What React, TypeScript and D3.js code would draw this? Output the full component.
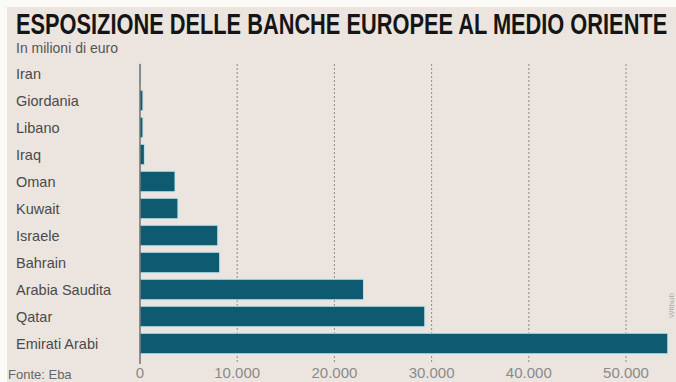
import React, { useEffect, useRef } from "react";
import * as d3 from "d3";

const categories = ["Iran", "Giordania", "Libano", "Iraq", "Oman", "Kuwait", "Israele", "Bahrain", "Arabia Saudita", "Qatar", "Emirati Arabi"];
const values = [80, 300, 300, 450, 3600, 3900, 8000, 8200, 23000, 29300, 54300];
const tickValues = [0, 10000, 20000, 30000, 40000, 50000];
const tickLabels = ["0", "10.000", "20.000", "30.000", "40.000", "50.000"];
const title = "ESPOSIZIONE DELLE BANCHE EUROPEE AL MEDIO ORIENTE";

const W = 676, H = 382;

export default function App() {
  const titleRef = useRef<SVGTextElement>(null);
  useEffect(() => {
    const el = titleRef.current;
    if (!el) return;
    const w = el.getComputedTextLength();
    const s = 651 / w;
    d3.select(el).attr("transform", `translate(16,34) scale(${s},1)`);
  }, []);
  const x = d3.scaleLinear().domain([0, 50000]).range([140, 626]);
  const y = d3.scaleBand().domain(categories).range([60, 357]).paddingInner(0.24).paddingOuter(0.12);
  const font = "'Liberation Sans', Arial, sans-serif";
  return (
    <svg width={W} height={H} style={{ position: "absolute", left: 0, top: 0 }}>
      <rect x={0} y={0} width={W} height={H} fill="#fbfaf7" />
      <rect x={7} y={7} width={W - 7} height={H - 7} fill="#ece5df" />
      <text ref={titleRef} transform="translate(16,34) scale(0.72,1)" fontFamily="'Liberation Sans', Arial, sans-serif" fontWeight="bold" fontSize={29} fill="#151515">{title}</text>
      <text x={16} y={53} fontFamily={font} fontSize={14} fill="#555">In milioni di euro</text>
      {tickValues.slice(1).map((t) => (
        <line key={t} x1={x(t)} x2={x(t)} y1={64} y2={364} stroke="#8a8a8a" strokeWidth={1} strokeDasharray="2,2" />
      ))}
      {categories.map((c, i) => (
        <g key={c}>
          <rect x={x(0)} y={y(c)!} width={Math.max(0.5, x(values[i]) - x(0))} height={y.bandwidth()} fill="#0e5a70" stroke="#bfe4ea" strokeWidth={1} />
          <text x={16} y={y(c)! + y.bandwidth() / 2 + 5} fontFamily={font} fontSize={14.5} fill="#4a4a4a">{c}</text>
        </g>
      ))}
      <line x1={x(0)} x2={x(0)} y1={64} y2={364} stroke="#555" strokeWidth={1.2} />
      {tickValues.map((t, i) => (
        <text key={t} x={x(t)} y={378} textAnchor="middle" fontFamily={font} fontSize={15} fill="#8a8a8a">{tickLabels[i]}</text>
      ))}
      <text x={8} y={379} fontFamily={font} fontSize={13} fill="#666">Fonte: Eba</text>
      <text transform="translate(674,318) rotate(-90)" fontFamily={font} fontSize={8} fill="#aaa">Withub</text>
    </svg>
  );
}
